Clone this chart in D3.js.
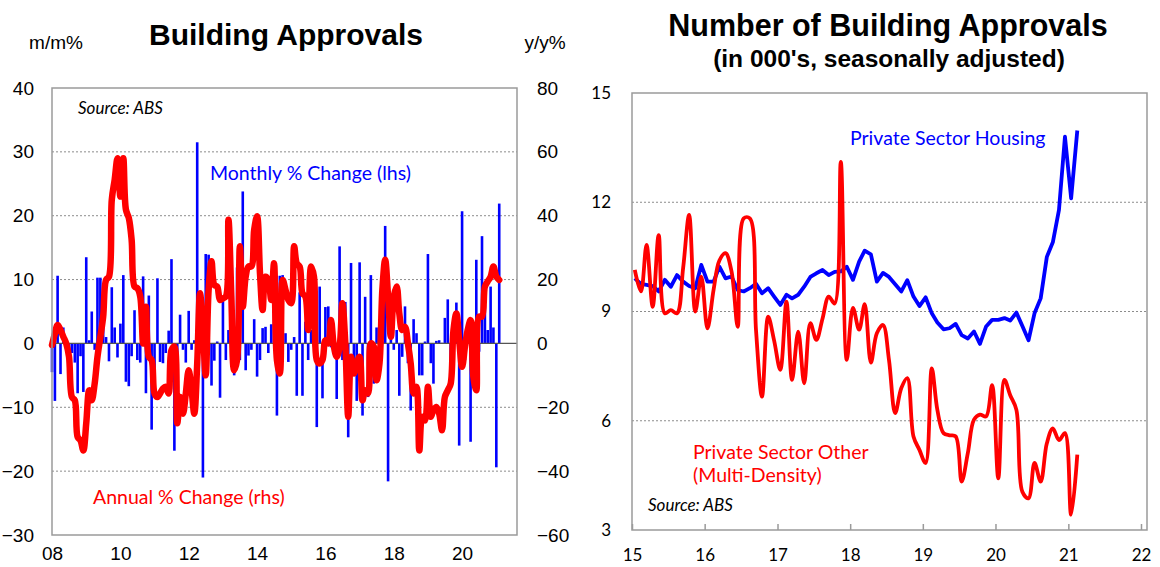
<!DOCTYPE html>
<html>
<head>
<meta charset="utf-8">
<script src="https://cdn.jsdelivr.net/npm/d3@7"></script>
<style>
  body { margin: 0; background: #fff; }
  svg { display: block; }
  .title { font-family: "Liberation Sans", Arial, sans-serif; font-weight: bold; fill: #000; }
  .unit { font-family: "Liberation Sans", Arial, sans-serif; font-size: 19px; fill: #000; }
  .axl text { font-family: "Liberation Sans", Arial, sans-serif; font-size: 19px; fill: #000; }
  .axr text { font-family: Lato, "Open Sans", sans-serif; font-size: 17px; fill: #000; }
  .note { font-family: Lato, "Open Sans", sans-serif; font-size: 19.5px; }
</style>
</head>
<body>
<svg width="1160" height="567"></svg>
<script>
// linker grafiek: maandelijkse % verandering (balken) en jaarlijkse % verandering (lijn), jan 2008 - feb 2021
var leftStart = [2008, 0];
var monthlyChange = [
  -4.5, -9, 10.6, -4.8, 2.5, -1, -2.5, -1.5, -3, -7.8,
  -2, -7.6, 13.5, 0.5, 5, -1, 10.3, 10.3, 4, 1,
  -2.8, 8.8, 2.5, -2.2, 3.1, 10.7, -6, -6.7, -2, 5.2,
  -2.6, -3, 10.5, -7.8, 7.5, -13.5, -4, 10.2, -2.9, -3.1,
  -1.5, 2, 13.2, -16.8, -8, 4.5, -1, -3, 5.1, -1,
  0.5, 31.5, -1, -21, 14, 13.9, -6.6, -2.7, 0.3, -8.5,
  6.6, -2.6, 2.1, -2.9, -5, 11.9, -2.6, 23.8, -4.2, -1.9,
  -1, 3.8, -5.2, -2.6, 2.4, 2.6, -1.5, 3, 6.3, -11.3,
  10.6, 10.7, 1.6, -2.9, -1, 1, -8.2, 8, -8.2, 3.4,
  -2.6, 2.1, -0.5, -13.1, 8.9, -8.6, 5.7, 5.8, -0.6, 0.5,
  -8.7, 15.2, -2.6, 6.5, -14.7, 12.6, -3.1, -9, 12.7, -11.3,
  7.3, -8.4, 10.7, -6.3, 2.5, -3.1, 0.3, 18.4, -21.6, 2.6,
  -1, 2.1, -8.2, -2.1, 5.8, -3.1, -10.5, 3.8, 1.6, -5,
  -5, 0.3, 14, -3.1, -6.3, 0.4, 0.5, 0.1, 4, 6.9,
  -2.6, -1.5, 6.4, -16, 20.7, -2.6, 2, -15.4, -1, 13.1,
  -1.3, 16.8, 6, 2.1, 8.9, 2.5, -19.4, 21.9
];
var annualChange = [
  -0.5, 3.1, 5.8, 4.2, 2.1, 0, -4.2, -16.8, -17.8, -29.3,
  -30.4, -33.5, -25, -14.7, -17.8, -12.6, -4.2, 2.1, 8.4, 19.9,
  20.9, 45, 51.3, 58, 46, 58, 41.9, 39.3, 32.5, 17.8,
  17.3, 14.7, 0, 11.5, -4.2, -5.2, -15.7, -16.8, -15.7, -14.1,
  -13.6, -15.7, -2.1, -1, -25, -16.8, -22, -15.7, -8.4, -14.7,
  -22, -6.3, 15.7, 4.2, -10, 16.8, 25.7, 18.3, 17.8, 13.6,
  14.1, 14.7, 38.7, 14.7, -8.4, -5.2, 30.4, 11.5, 20.9, 24.1,
  24.1, 35.6, 39.8, 22, 10.5, 20.9, 19.9, 13.6, 25.1, -5.2,
  -9.4, 19.9, 16.8, 13.6, 12.6, 30.4, 25.1, 24.1, 15.7, 14.7,
  4.2, 24.1, 20.9, -5.2, -6.3, -5.2, 1, 0, 7.3, -1,
  -4.2, -1, 12.6, 0, -23, -4.2, -9.4, -6.3, -4.2, -17.8,
  -14.7, -15.7, 0, -1, -11.5, -6.3, 16.8, 26.2, 14.7, 2.1,
  14.7, 17.8, 9.4, 4.2, 5.2, 0, -6.3, -15.7, -13.6, -33.5,
  -23, -24.1, -13.6, -23, -20.9, -19.9, -22, -27.2, -16.8, -14.7,
  -12.6, 4.2, 9.4, 1, -7.3, -1, 4.2, 7.3, -10.5, -14.7,
  8.4, 8.4, 17.8, 19.4, 20.9, 24.1, 20.9, 19.9
];
var leftTicks = [-30, -20, -10, 0, 10, 20, 30, 40];
var rightTicks = [-60, -40, -20, 0, 20, 40, 60, 80];
var leftYears = [2008, 2010, 2012, 2014, 2016, 2018, 2020];

// rechter grafiek: aantal goedkeuringen (in duizenden), jan 2015 - feb 2021
var rightStart = [2015, 0];
var housing = [
  9.91, 9.76, 9.73, 9.7, 9.55, 9.87, 9.68, 10.0, 9.82, 9.7,
  9.64, 10.28, 9.82, 9.82, 10.23, 9.91, 9.96, 9.59, 9.55, 9.64,
  9.76, 9.5, 9.64, 9.41, 9.18, 9.46, 9.36, 9.46, 9.68, 9.95,
  10.05, 10.14, 10.0, 10.09, 10.1, 10.23, 9.87, 10.37, 10.67, 10.57,
  9.82, 10.06, 9.95, 9.75, 9.55, 9.86, 9.41, 9.15, 9.39, 8.95,
  8.7, 8.51, 8.54, 8.66, 8.35, 8.26, 8.45, 8.11, 8.59, 8.77,
  8.77, 8.82, 8.75, 8.97, 8.6, 8.21, 8.95, 9.36, 10.5, 10.9,
  11.79, 13.8, 12.11, 13.97
];
var multiDensity = [
  10.14, 9.55, 10.83, 9.13, 11.1, 8.95, 9.04, 8.95, 10.2, 11.65,
  9.0, 9.96, 8.54, 9.6, 10.4, 10.6, 10.1, 8.58, 11.56, 11.56,
  8.49, 6.66, 8.86, 8.2, 7.4, 9.27, 7.12, 8.45, 7.03, 8.68,
  8.22, 8.8, 9.41, 9.22, 13.11, 7.67, 9.1, 8.5, 9.2, 7.6,
  8.4, 8.63, 7.67, 6.21, 6.9, 7.17, 5.57, 5.2, 4.84, 7.44,
  6.3, 5.66, 5.6, 5.57, 4.33, 5.11, 6.03, 6.17, 6.12, 6.98,
  4.42, 7.12, 6.7, 6.3, 4.05, 3.87, 4.84, 4.33, 5.38, 5.79,
  5.47, 5.66, 3.42, 5.07
];
var numberTicks = [3, 6, 9, 12, 15];
var rightYears = [2015, 2016, 2017, 2018, 2019, 2020, 2021, 2022];

var svg = d3.select("svg");
var gridColor = "#8c8c8c";
var boxColor = "#9a9a9a";

// ---------- linker grafiek ----------
var L = { left: 52, right: 517, top: 88, bottom: 535 };

var xL = d3.scaleTime()
    .domain([new Date(2008, 0, 1), new Date(2021, 7, 10)])
    .range([L.left, L.right]);
var yL = d3.scaleLinear().domain([-30, 40]).range([L.bottom, L.top]);
var yR = d3.scaleLinear().domain([-60, 80]).range([L.bottom, L.top]);

var leftDates = monthlyChange.map(function (d, i) {
    return new Date(leftStart[0], leftStart[1] + i, 1);
});

var gL = svg.append("g");

gL.selectAll(".gridL")
    .data(leftTicks.filter(function (d) { return d !== 0 && d !== 40 && d !== -30; }))
    .enter().append("line")
    .attr("x1", L.left).attr("x2", L.right)
    .attr("y1", function (d) { return yL(d); })
    .attr("y2", function (d) { return yL(d); })
    .attr("stroke", gridColor)
    .attr("stroke-width", 1)
    .attr("stroke-dasharray", "2,2");

gL.selectAll(".bar")
    .data(monthlyChange)
    .enter().append("rect")
    .attr("class", "bar")
    .attr("x", function (d, i) { return xL(leftDates[i]) - 1.3; })
    .attr("width", 2.6)
    .attr("y", function (d) { return yL(Math.max(0, d)); })
    .attr("height", function (d) { return Math.abs(yL(d) - yL(0)); })
    .attr("fill", "#0000ff");

gL.append("line")
    .attr("x1", L.left).attr("x2", L.right)
    .attr("y1", yL(0)).attr("y2", yL(0))
    .attr("stroke", "#555").attr("stroke-width", 1.2);

var annualLine = d3.line()
    .x(function (d, i) { return xL(leftDates[i]); })
    .y(function (d) { return yR(d); })
    .curve(d3.curveCatmullRom.alpha(0.5));

gL.append("path")
    .datum(annualChange)
    .attr("d", annualLine)
    .attr("fill", "none")
    .attr("stroke", "#ff0000")
    .attr("stroke-width", 6.5)
    .attr("stroke-linejoin", "round")
    .attr("stroke-linecap", "round");

gL.append("rect")
    .attr("x", L.left).attr("y", L.top)
    .attr("width", L.right - L.left).attr("height", L.bottom - L.top)
    .attr("fill", "none").attr("stroke", boxColor).attr("stroke-width", 1.5);

gL.append("g")
    .attr("class", "axl")
    .attr("transform", "translate(" + L.left + ",0)")
    .call(d3.axisLeft(yL).tickValues(leftTicks).tickSize(0).tickPadding(18))
    .call(function (g) { g.select(".domain").remove(); });

gL.append("g")
    .attr("class", "axl")
    .attr("transform", "translate(" + L.right + ",0)")
    .call(d3.axisRight(yR).tickValues(rightTicks).tickSize(0).tickPadding(20))
    .call(function (g) { g.select(".domain").remove(); });

gL.append("g")
    .attr("class", "axl")
    .attr("transform", "translate(0," + L.bottom + ")")
    .call(d3.axisBottom(xL)
        .tickValues(leftYears.map(function (y) { return new Date(y, 0, 1); }))
        .tickFormat(d3.timeFormat("%y"))
        .tickSize(0).tickPadding(12))
    .call(function (g) { g.select(".domain").remove(); });

svg.append("text").attr("class", "title")
    .attr("x", 286).attr("y", 45).attr("text-anchor", "middle")
    .style("font-size", "30px")
    .text("Building Approvals");
svg.append("text").attr("class", "unit")
    .attr("x", 56).attr("y", 49).attr("text-anchor", "middle")
    .text("m/m%");
svg.append("text").attr("class", "unit")
    .attr("x", 545).attr("y", 49).attr("text-anchor", "middle")
    .text("y/y%");

gL.append("text").attr("class", "note")
    .attr("x", 78).attr("y", 114)
    .style("font-style", "italic").style("font-size", "17px")
    .text("Source: ABS");
gL.append("text").attr("class", "note")
    .attr("x", 210).attr("y", 180).attr("fill", "#0000ff")
    .text("Monthly % Change (lhs)");
gL.append("text").attr("class", "note")
    .attr("x", 93).attr("y", 504).attr("fill", "#ff0000")
    .text("Annual % Change (rhs)");

// ---------- rechter grafiek ----------
var R = { left: 632, right: 1147, top: 93, bottom: 530 };

var xN = d3.scaleTime()
    .domain([new Date(2015, 0, 1), new Date(2022, 0, 1)])
    .range([R.left, 1141]);
var yN = d3.scaleLinear().domain([3, 15]).range([R.bottom, R.top]);

var rightDates = housing.map(function (d, i) {
    return new Date(rightStart[0], rightStart[1] + i, 15);
});

var gR = svg.append("g");

gR.selectAll(".gridR")
    .data(numberTicks.filter(function (d) { return d !== 3 && d !== 15; }))
    .enter().append("line")
    .attr("x1", R.left).attr("x2", R.right)
    .attr("y1", function (d) { return yN(d); })
    .attr("y2", function (d) { return yN(d); })
    .attr("stroke", gridColor)
    .attr("stroke-width", 1)
    .attr("stroke-dasharray", "2,2");

var housingLine = d3.line()
    .x(function (d, i) { return xN(rightDates[i]); })
    .y(function (d) { return yN(d); });

var otherLine = d3.line()
    .x(function (d, i) { return xN(rightDates[i]); })
    .y(function (d) { return yN(d); })
    .curve(d3.curveCatmullRom.alpha(0.5));

gR.append("path")
    .datum(housing)
    .attr("d", housingLine)
    .attr("fill", "none")
    .attr("stroke", "#0000ff")
    .attr("stroke-width", 3.8)
    .attr("stroke-linejoin", "round");

gR.append("path")
    .datum(multiDensity)
    .attr("d", otherLine)
    .attr("fill", "none")
    .attr("stroke", "#ff0000")
    .attr("stroke-width", 3.8)
    .attr("stroke-linejoin", "round");

gR.append("rect")
    .attr("x", R.left).attr("y", R.top)
    .attr("width", R.right - R.left).attr("height", R.bottom - R.top)
    .attr("fill", "none").attr("stroke", boxColor).attr("stroke-width", 1.5);

gR.append("g")
    .attr("class", "axr")
    .attr("transform", "translate(" + R.left + ",0)")
    .call(d3.axisLeft(yN).tickValues(numberTicks).tickSize(0).tickPadding(21))
    .call(function (g) { g.select(".domain").remove(); });

gR.append("g")
    .attr("class", "axr")
    .attr("transform", "translate(0," + R.bottom + ")")
    .call(d3.axisBottom(xN)
        .tickValues(rightYears.map(function (y) { return new Date(y, 0, 1); }))
        .tickFormat(d3.timeFormat("%y"))
        .tickSizeInner(-6).tickSizeOuter(0).tickPadding(19))
    .call(function (g) {
        g.select(".domain").remove();
        g.selectAll(".tick line").attr("stroke", boxColor).attr("stroke-width", 1.5);
    });

svg.append("text").attr("class", "title")
    .attr("x", 888).attr("y", 36).attr("text-anchor", "middle")
    .style("font-size", "30.5px")
    .text("Number of Building Approvals");
svg.append("text").attr("class", "title")
    .attr("x", 889).attr("y", 67).attr("text-anchor", "middle")
    .style("font-size", "24.5px")
    .text("(in 000's, seasonally adjusted)");

gR.append("text").attr("class", "note")
    .attr("x", 850).attr("y", 145).attr("fill", "#0000ff")
    .text("Private Sector Housing");
gR.append("text").attr("class", "note")
    .attr("x", 693).attr("y", 459).attr("fill", "#ff0000")
    .text("Private Sector Other");
gR.append("text").attr("class", "note")
    .attr("x", 693).attr("y", 482).attr("fill", "#ff0000")
    .text("(Multi-Density)");
gR.append("text").attr("class", "note")
    .attr("x", 648).attr("y", 511)
    .style("font-style", "italic").style("font-size", "17px")
    .text("Source: ABS");
</script>
</body>
</html>
